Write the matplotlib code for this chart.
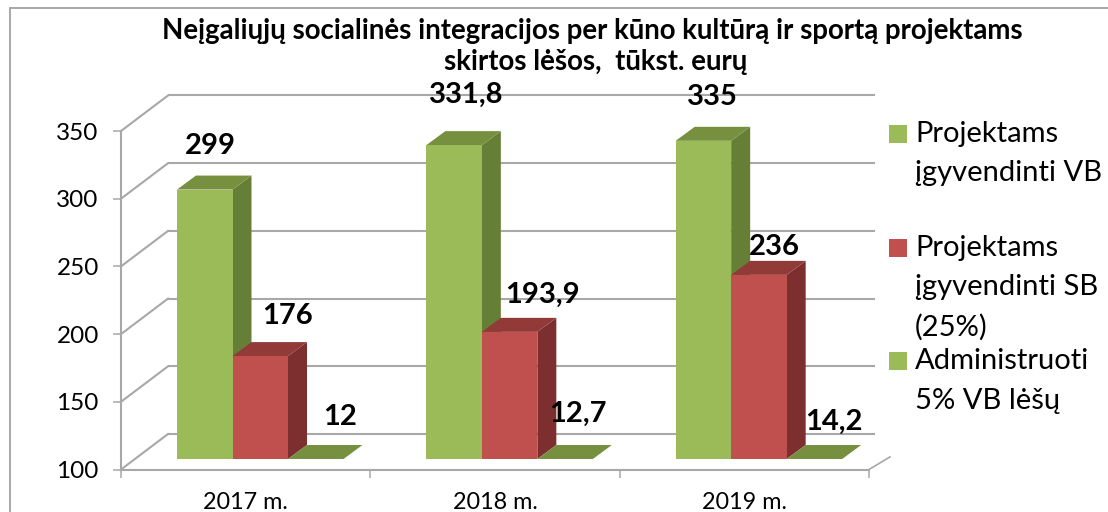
import matplotlib
matplotlib.use("Agg")
import matplotlib.pyplot as plt
from matplotlib.patches import Polygon, Rectangle
import numpy as np

categories = ["2017 m.", "2018 m.", "2019 m."]
vb_projects = [299, 331.8, 335]
sb_projects = [176, 193.9, 236]
admin_5pct = [12, 12.7, 14.2]
y_ticks = [100, 150, 200, 250, 300, 350]
series_names = ["Projektams\nįgyvendinti VB", "Projektams\nįgyvendinti SB\n(25%)", "Administruoti\n5% VB lėšų"]
title_text = "Neįgaliųjų socialinės integracijos per kūno kultūrą ir sportą projektams\nskirtos lėšos,  tūkst. eurų"

W, H = 1108, 512
FRONT = ["#9BBB59", "#C0504D", "#9BBB59"]
TOP = ["#77903F", "#923A38", "#77903F"]
SIDE = ["#667F36", "#7C2F2E", "#667F36"]
GRID = "#A8A8A8"
FONT = "Lato"
plt.rcParams["font.family"] = [FONT, "DejaVu Sans"]

fig = plt.figure(figsize=(W / 100, H / 100), dpi=100, facecolor="white")
L, R, T, B = 121, 869, 131, 469.5
ax = fig.add_axes([L / W, 1 - B / H, (R - L) / W, (B - T) / H])
ax.set_xlim(0, 3)
ax.set_ylim(100, 350)
ax.patch.set_visible(False)
px_x = 3 / (R - L)
px_y = 250 / (B - T)

# chart-area frame (left and top edges)
fig.add_artist(plt.Line2D([9.5 / W, 9.5 / W, 1], [0, 1 - 8 / H, 1 - 8 / H], color="#A0A0A0", lw=1.3,
                          transform=fig.transFigure, solid_joinstyle="miter"))

# back wall and side wall gridlines
wall_dx, wall_dy = 47 * px_x, 35.5 * px_y
grid_end = (875 - L) * px_x
for v in y_ticks:
    ax.plot([wall_dx, grid_end], [v + wall_dy] * 2, color=GRID, lw=1.5, clip_on=False, zorder=1, solid_capstyle="butt")
    ax.plot([0, wall_dx], [v, v + wall_dy], color=GRID, lw=1.5, clip_on=False, zorder=1)
ax.plot([3, 3 + 21 * px_x], [100, 100 + 12.6 * px_y], color=GRID, lw=1.2, clip_on=False, zorder=1)

# bars: front, top and side faces
bar_w = 55.5 * px_x
depth_x, depth_y = 19 * px_x, 14 * px_y
base_shift_x, base_shift_y = 56 * px_x, 10.5 * px_y
series = [vb_projects, sb_projects, admin_5pct]
offsets = [
    [(5.5, 44), (27, 40), (24.5, 42)],
    [(12, 50), (32.5, 37), (13, 45)],
    [(9, 43.6), (15, 28), (19.5, 37)],
]
for c in range(len(categories)):
    left = c + base_shift_x
    for s in range(3):
        val = series[s][c]
        h = max(val, 100)
        x0 = left + s * bar_w
        y0 = 100 + base_shift_y
        y1 = h + base_shift_y
        z = 3 + s * 0.1
        ax.add_patch(Polygon([(x0 + bar_w, y0), (x0 + bar_w + depth_x, y0 + depth_y),
                              (x0 + bar_w + depth_x, y1 + depth_y), (x0 + bar_w, y1)],
                             fc=SIDE[s], ec="none", zorder=z, clip_on=False))
        ax.add_patch(Polygon([(x0, y1), (x0 + depth_x, y1 + depth_y),
                              (x0 + bar_w + depth_x, y1 + depth_y), (x0 + bar_w, y1)],
                             fc=TOP[s], ec="none", zorder=z, clip_on=False))
        ax.bar(x0, h - 100, width=bar_w, bottom=y0, align="edge", color=FRONT[s], edgecolor="none", zorder=z, clip_on=False)
        label = f"{val:g}".replace(".", ",")
        ax.annotate(label, xy=(x0 + bar_w / 2, y1), xytext=offsets[c][s], textcoords="offset pixels",
                    ha="center", va="center", fontsize=21, fontweight="bold", color="black", zorder=6,
                    annotation_clip=False)

# axes
for name in ("top", "right"):
    ax.spines[name].set_visible(False)
for name in ("left", "bottom"):
    ax.spines[name].set_color(GRID)
    ax.spines[name].set_linewidth(1.5)
ax.set_yticks(y_ticks)
ax.set_xticks(range(4))
ax.set_xticklabels([])
ax.set_xticks(np.arange(3) + 0.5, categories, minor=True)
ax.tick_params(axis="y", length=5.5, width=1.1, color=GRID, pad=10.5, labelsize=17.5, labelcolor="black")
ax.tick_params(axis="x", which="major", length=5.5, width=1.1, color=GRID)
ax.tick_params(axis="x", which="minor", length=0, pad=16.5, labelsize=16.8, labelcolor="black")

# title
fig.text(592 / W, 1 - 31 / H, title_text.split("\n")[0], ha="center", va="center", fontsize=19.9, fontweight="bold")
fig.text(596 / W, 1 - 62 / H, title_text.split("\n")[1], ha="center", va="center", fontsize=19.9, fontweight="bold")

# legend
swatch_tops = [125, 239, 352]
for name, color, ytop in zip(series_names, FRONT, swatch_tops):
    fig.add_artist(Rectangle((889 / W, 1 - (ytop + 18) / H), 18 / W, 18 / H, fc=color, ec="none", transform=fig.transFigure))
    for i, line in enumerate(name.split("\n")):
        fig.text(915 / W, 1 - (ytop + 9 + i * 39.5) / H, line, ha="left", va="center", fontsize=21)

fig.savefig("out.png", dpi=100)
